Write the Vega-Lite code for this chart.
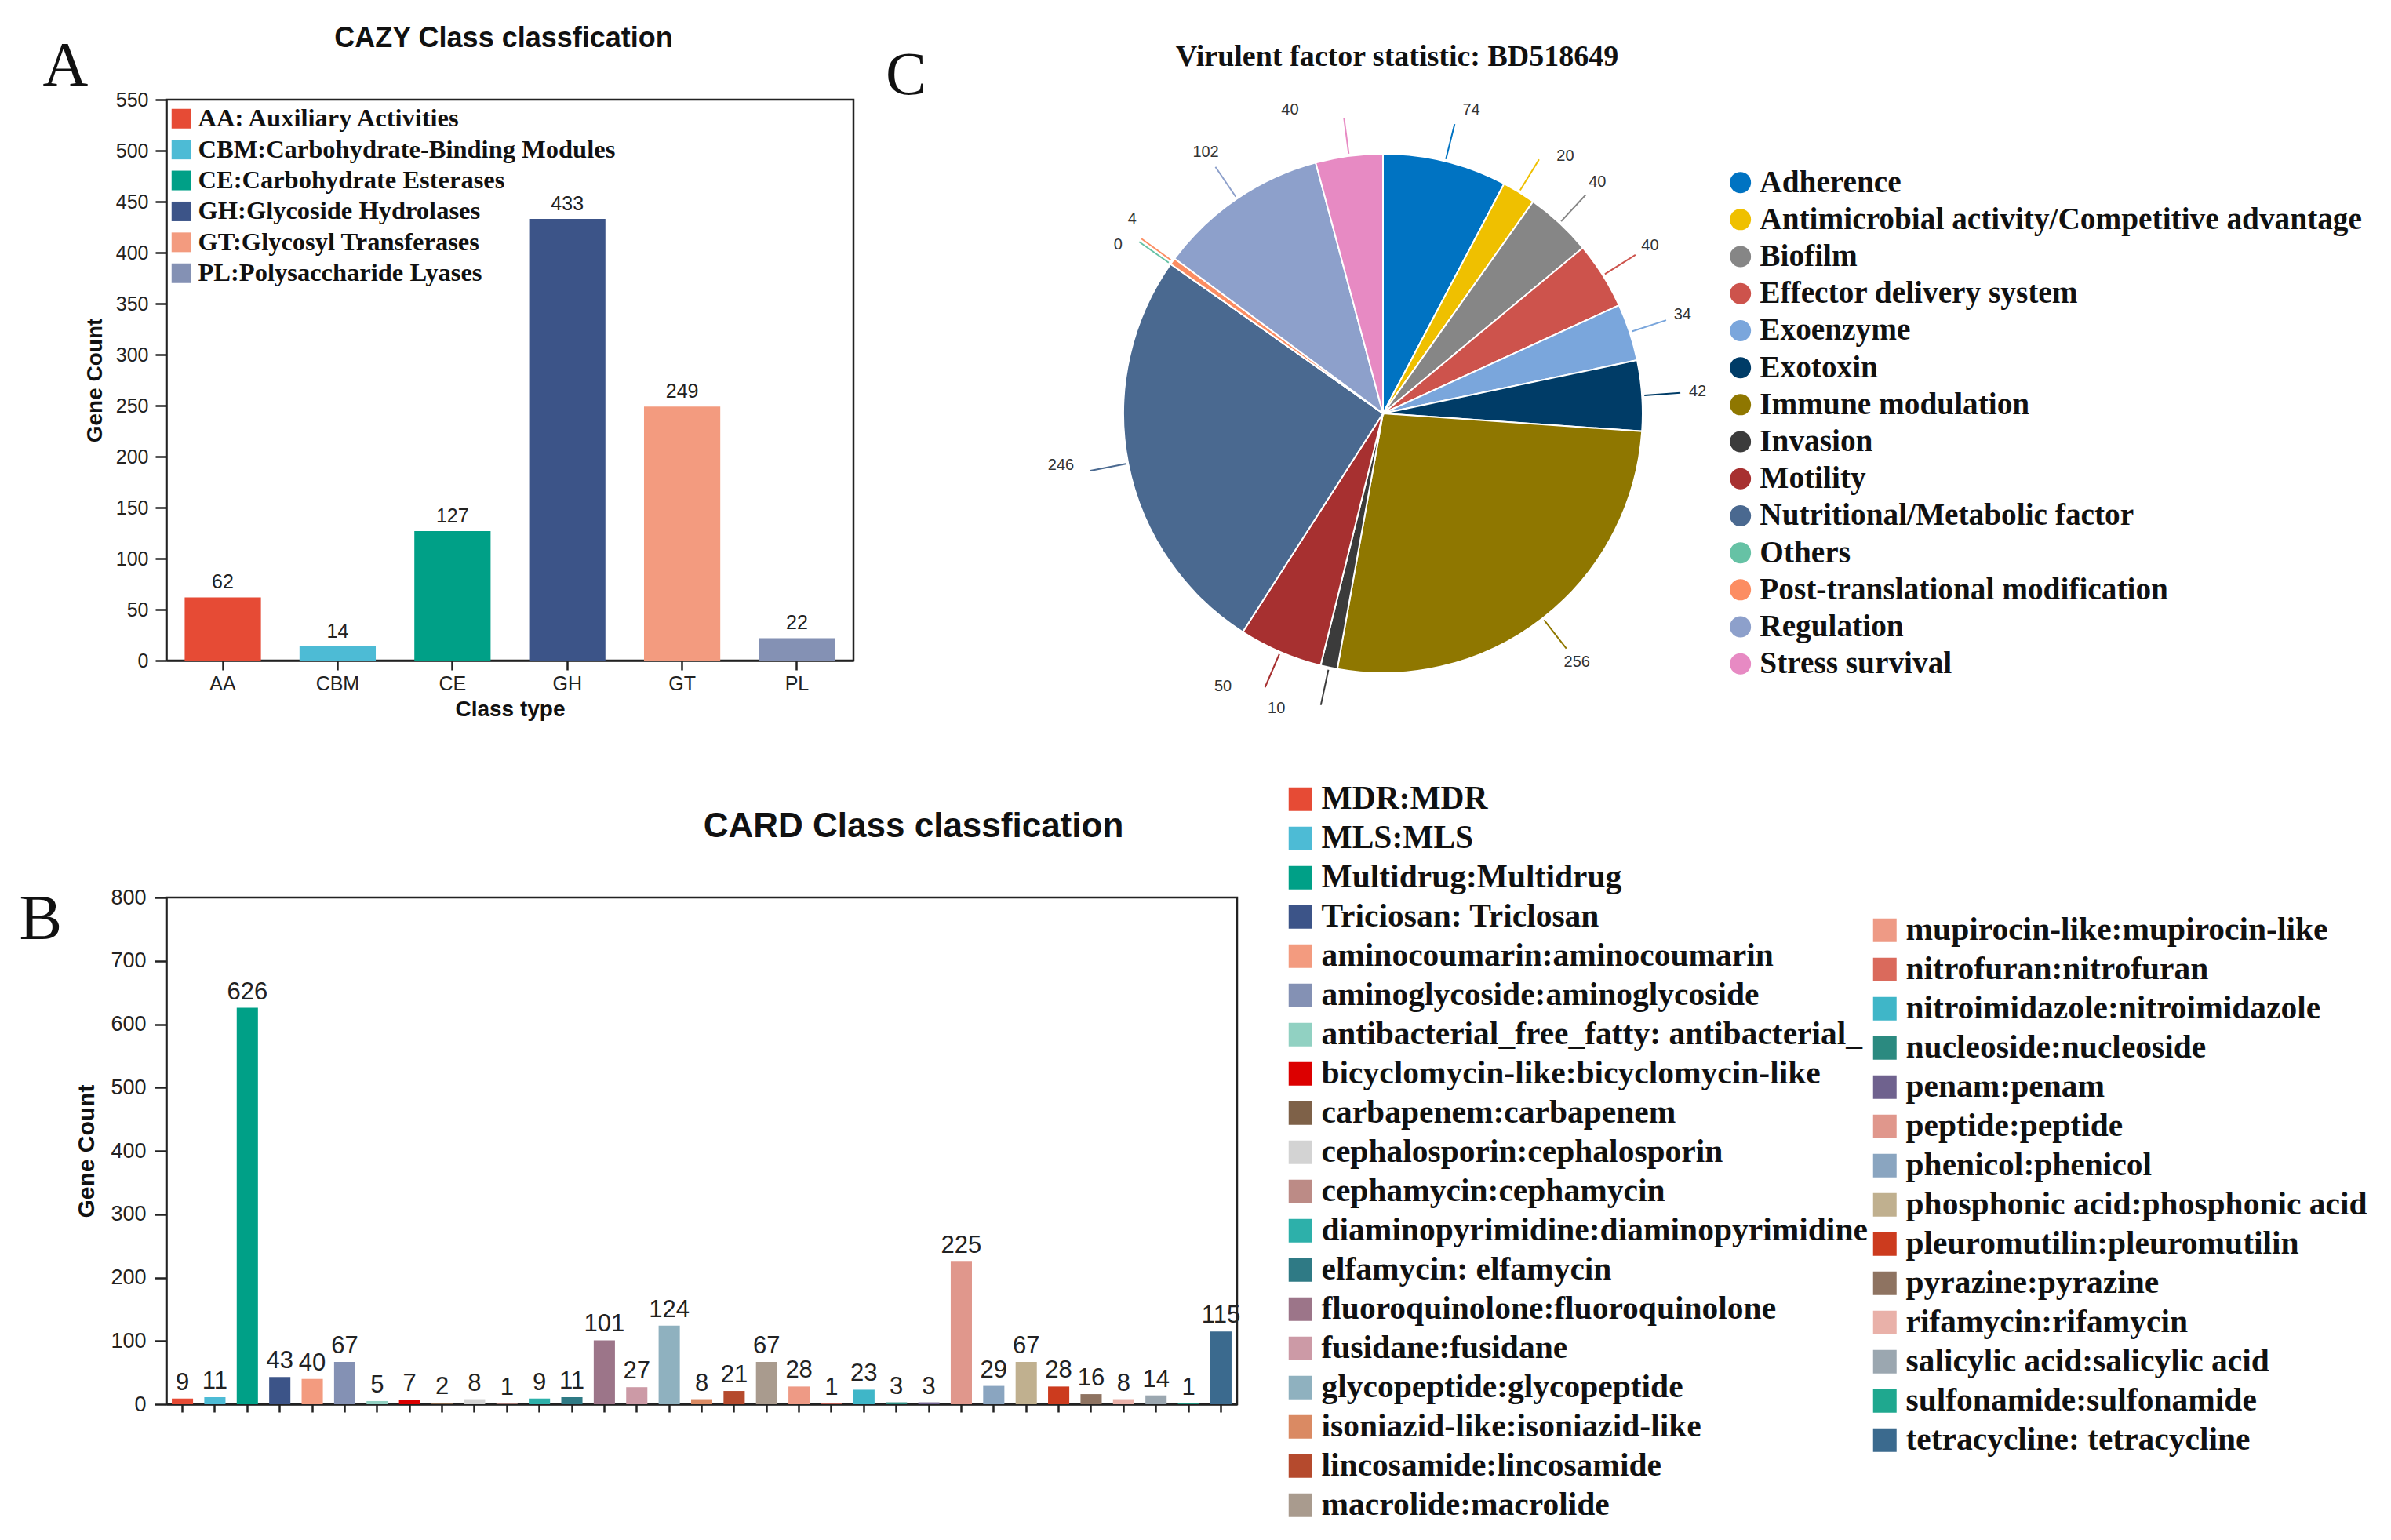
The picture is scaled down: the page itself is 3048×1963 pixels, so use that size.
{
  "$schema": "https://vega.github.io/schema/vega-lite/v6.json",
  "background": "white",
  "padding": {"left": 22, "top": 29, "right": 0, "bottom": 0},
  "config": {
    "font": "Liberation Sans",
    "view": {"stroke": "#222", "strokeWidth": 2.5},
    "axis": {"labelFont": "Liberation Sans", "labelFontSize": 25, "labelColor": "#222", "domainColor": "#222", "domainWidth": 2.5, "tickColor": "#222", "tickWidth": 2.5, "titleFont": "Liberation Sans", "titleFontWeight": "bold", "titleColor": "#111", "grid": false},
    "legend": {"labelFont": "Liberation Serif", "labelFontWeight": "bold", "labelColor": "#111", "labelLimit": 2000, "padding": 0, "symbolStrokeWidth": 0, "title": null},
    "title": {"color": "#111"}
  },
  "datasets": {
    "cazy": [
      {"type": "AA", "desc": "AA: Auxiliary Activities", "count": 62},
      {"type": "CBM", "desc": "CBM:Carbohydrate-Binding Modules", "count": 14},
      {"type": "CE", "desc": "CE:Carbohydrate Esterases", "count": 127},
      {"type": "GH", "desc": "GH:Glycoside Hydrolases", "count": 433},
      {"type": "GT", "desc": "GT:Glycosyl Transferases", "count": 249},
      {"type": "PL", "desc": "PL:Polysaccharide Lyases", "count": 22}
    ],
    "vf": [
      {"factor": "Adherence", "count": 74},
      {"factor": "Antimicrobial activity/Competitive advantage", "count": 20},
      {"factor": "Biofilm", "count": 40},
      {"factor": "Effector delivery system", "count": 40},
      {"factor": "Exoenzyme", "count": 34},
      {"factor": "Exotoxin", "count": 42},
      {"factor": "Immune modulation", "count": 256},
      {"factor": "Invasion", "count": 10},
      {"factor": "Motility", "count": 50},
      {"factor": "Nutritional/Metabolic factor", "count": 246},
      {"factor": "Others", "count": 0},
      {"factor": "Post-translational modification", "count": 4},
      {"factor": "Regulation", "count": 102},
      {"factor": "Stress survival", "count": 40}
    ],
    "card": [
      {"cls": "MDR:MDR", "count": 9},
      {"cls": "MLS:MLS", "count": 11},
      {"cls": "Multidrug:Multidrug", "count": 626},
      {"cls": "Triciosan: Triclosan", "count": 43},
      {"cls": "aminocoumarin:aminocoumarin", "count": 40},
      {"cls": "aminoglycoside:aminoglycoside", "count": 67},
      {"cls": "antibacterial_free_fatty: antibacterial_", "count": 5},
      {"cls": "bicyclomycin-like:bicyclomycin-like", "count": 7},
      {"cls": "carbapenem:carbapenem", "count": 2},
      {"cls": "cephalosporin:cephalosporin", "count": 8},
      {"cls": "cephamycin:cephamycin", "count": 1},
      {"cls": "diaminopyrimidine:diaminopyrimidine", "count": 9},
      {"cls": "elfamycin: elfamycin", "count": 11},
      {"cls": "fluoroquinolone:fluoroquinolone", "count": 101},
      {"cls": "fusidane:fusidane", "count": 27},
      {"cls": "glycopeptide:glycopeptide", "count": 124},
      {"cls": "isoniazid-like:isoniazid-like", "count": 8},
      {"cls": "lincosamide:lincosamide", "count": 21},
      {"cls": "macrolide:macrolide", "count": 67},
      {"cls": "mupirocin-like:mupirocin-like", "count": 28},
      {"cls": "nitrofuran:nitrofuran", "count": 1},
      {"cls": "nitroimidazole:nitroimidazole", "count": 23},
      {"cls": "nucleoside:nucleoside", "count": 3},
      {"cls": "penam:penam", "count": 3},
      {"cls": "peptide:peptide", "count": 225},
      {"cls": "phenicol:phenicol", "count": 29},
      {"cls": "phosphonic acid:phosphonic acid", "count": 67},
      {"cls": "pleuromutilin:pleuromutilin", "count": 28},
      {"cls": "pyrazine:pyrazine", "count": 16},
      {"cls": "rifamycin:rifamycin", "count": 8},
      {"cls": "salicylic acid:salicylic acid", "count": 14},
      {"cls": "sulfonamide:sulfonamide", "count": 1},
      {"cls": "tetracycline: tetracycline", "count": 115}
    ]
  },
  "title": {"text": "C", "font": "Liberation Serif", "fontSize": 78, "fontWeight": "normal", "anchor": "start", "frame": "group", "baseline": "alphabetic", "offset": 0, "dx": 917, "dy": 168},
  "columns": 2,
  "align": {"row": "each", "column": "none"},
  "bounds": "flush",
  "spacing": {"row": 217, "column": -145},
  "resolve": {"scale": {"color": "independent", "stroke": "independent"}},
  "concat": [
    {
      "title": {"text": "CAZY Class classfication", "font": "Liberation Sans", "fontSize": 36, "fontWeight": "bold", "anchor": "middle", "frame": "group", "baseline": "alphabetic", "offset": 0, "dx": -8, "dy": 52},
      "width": 876,
      "height": 715,
      "data": {"name": "cazy"},
      "encoding": {
        "y": {"field": "count", "type": "quantitative", "scale": {"domain": [0, 550], "nice": false},
          "axis": {"values": [0, 50, 100, 150, 200, 250, 300, 350, 400, 450, 500, 550], "title": "Gene Count", "titleFontSize": 28, "tickSize": 14, "labelPadding": 9, "titlePadding": 12}}
      },
      "layer": [
        {
          "mark": {"type": "bar"},
          "encoding": {
            "x": {"field": "type", "type": "nominal", "sort": null, "scale": {"paddingInner": 0.336, "paddingOuter": 0.16},
              "axis": {"labelAngle": 0, "title": "Class type", "titleFontSize": 28, "tickSize": 12, "labelPadding": 5, "titlePadding": 6}},
            "color": {"field": "desc", "type": "nominal", "sort": null,
              "scale": {"domain": ["AA: Auxiliary Activities", "CBM:Carbohydrate-Binding Modules", "CE:Carbohydrate Esterases", "GH:Glycoside Hydrolases", "GT:Glycosyl Transferases", "PL:Polysaccharide Lyases"],
                "range": ["#E64B35", "#4DBBD5", "#00A087", "#3C5488", "#F39B7F", "#8491B4"]},
              "legend": {"orient": "none", "legendX": 3, "legendY": 8, "symbolType": "square", "symbolSize": 625, "labelFontSize": 32.5, "rowPadding": 6.4, "labelOffset": 5}}
          }
        },
        {
          "mark": {"type": "text", "baseline": "alphabetic", "dy": -11, "fontSize": 25, "color": "#222"},
          "encoding": {
            "x": {"field": "type", "type": "nominal", "sort": null,
              "axis": {"orient": "top", "labels": false, "ticks": false, "domain": false, "title": "A", "titleFont": "Liberation Serif", "titleFontSize": 80, "titleFontWeight": "normal", "titleAngle": 0, "titleX": -158, "titleY": -19, "titleAlign": "left", "titleBaseline": "alphabetic"}},
            "text": {"field": "count", "type": "quantitative"}
          }
        }
      ],
      "resolve": {"axis": {"x": "independent"}}
    },
    {
      "title": {"text": "Virulent factor statistic: BD518649", "font": "Liberation Serif", "fontSize": 38, "fontWeight": "bold", "anchor": "middle", "frame": "group", "baseline": "alphabetic", "offset": 0, "dx": 18, "dy": 25},
      "width": 662,
      "height": 800,
      "view": {"stroke": null},
      "data": {"name": "vf"},
      "encoding": {"theta": {"field": "count", "type": "quantitative", "stack": true}},
      "layer": [
        {
          "mark": {"type": "arc", "radius": 331, "stroke": "white", "strokeWidth": 2},
          "encoding": {
            "color": {"field": "factor", "type": "nominal", "sort": null,
              "scale": {"domain": ["Adherence", "Antimicrobial activity/Competitive advantage", "Biofilm", "Effector delivery system", "Exoenzyme", "Exotoxin", "Immune modulation", "Invasion", "Motility", "Nutritional/Metabolic factor", "Others", "Post-translational modification", "Regulation", "Stress survival"],
                "range": ["#0073C2", "#EFC000", "#868686", "#CD534C", "#7AA6DC", "#003C67", "#8F7700", "#3B3B3B", "#A73030", "#4A6990", "#66C2A5", "#FC8D62", "#8DA0CB", "#E78AC3"]},
              "legend": {"orient": "none", "legendX": 767, "legendY": 86, "symbolType": "circle", "symbolSize": 729, "labelFontSize": 39.3, "rowPadding": 7.2, "labelOffset": 5}}
          }
        },
        {
          "mark": {"type": "arc", "radius": 380, "radius2": 334, "padAngle": 3, "fillOpacity": 0, "strokeWidth": 2},
          "encoding": {
            "stroke": {"field": "factor", "type": "nominal", "sort": null,
              "scale": {"domain": ["Adherence", "Antimicrobial activity/Competitive advantage", "Biofilm", "Effector delivery system", "Exoenzyme", "Exotoxin", "Immune modulation", "Invasion", "Motility", "Nutritional/Metabolic factor", "Others", "Post-translational modification", "Regulation", "Stress survival"],
                "range": ["#0073C2", "#EFC000", "#868686", "#CD534C", "#7AA6DC", "#003C67", "#8F7700", "#3B3B3B", "#A73030", "#4A6990", "#66C2A5", "#FC8D62", "#8DA0CB", "#E78AC3"]},
              "legend": null}
          }
        },
        {
          "mark": {"type": "text", "radius": 402, "fontSize": 20, "color": "#333"},
          "encoding": {
            "order": {"field": "factor", "type": "nominal", "sort": "ascending"},
            "text": {"condition": {"test": "indexof(['Others', 'Post-translational modification', 'Motility', 'Invasion', 'Stress survival', 'Antimicrobial activity/Competitive advantage', 'Adherence', 'Nutritional/Metabolic factor'], datum.factor) >= 0", "value": ""}, "field": "count", "type": "quantitative"}
          }
        },
        {
          "mark": {"type": "text", "radius": 402, "fontSize": 20, "color": "#333", "dx": 6, "dy": -12},
          "encoding": {
            "order": {"field": "factor", "type": "nominal", "sort": "ascending"},
            "text": {"condition": {"test": "datum.factor === 'Post-translational modification'", "field": "count", "type": "quantitative"}, "value": ""}
          }
        },
        {
          "mark": {"type": "text", "radius": 402, "fontSize": 20, "color": "#333", "dx": -9, "dy": 16},
          "encoding": {
            "order": {"field": "factor", "type": "nominal", "sort": "ascending"},
            "text": {"condition": {"test": "datum.factor === 'Others'", "field": "count", "type": "quantitative"}, "value": ""}
          }
        },
        {
          "mark": {"type": "text", "radius": 402, "fontSize": 20, "color": "#333", "dx": -45, "dy": -21},
          "encoding": {
            "order": {"field": "factor", "type": "nominal", "sort": "ascending"},
            "text": {"condition": {"test": "datum.factor === 'Motility'", "field": "count", "type": "quantitative"}, "value": ""}
          }
        },
        {
          "mark": {"type": "text", "radius": 402, "fontSize": 20, "color": "#333", "dx": -52, "dy": -17},
          "encoding": {
            "order": {"field": "factor", "type": "nominal", "sort": "ascending"},
            "text": {"condition": {"test": "datum.factor === 'Invasion'", "field": "count", "type": "quantitative"}, "value": ""}
          }
        },
        {
          "mark": {"type": "text", "radius": 402, "fontSize": 20, "color": "#333", "dx": -66, "dy": 12},
          "encoding": {
            "order": {"field": "factor", "type": "nominal", "sort": "ascending"},
            "text": {"condition": {"test": "datum.factor === 'Stress survival'", "field": "count", "type": "quantitative"}, "value": ""}
          }
        },
        {
          "mark": {"type": "text", "radius": 402, "fontSize": 20, "color": "#333", "dx": 22, "dy": 15},
          "encoding": {
            "order": {"field": "factor", "type": "nominal", "sort": "ascending"},
            "text": {"condition": {"test": "datum.factor === 'Antimicrobial activity/Competitive advantage'", "field": "count", "type": "quantitative"}, "value": ""}
          }
        },
        {
          "mark": {"type": "text", "radius": 402, "fontSize": 20, "color": "#333", "dx": 16, "dy": 3},
          "encoding": {
            "order": {"field": "factor", "type": "nominal", "sort": "ascending"},
            "text": {"condition": {"test": "datum.factor === 'Adherence'", "field": "count", "type": "quantitative"}, "value": ""}
          }
        },
        {
          "mark": {"type": "text", "radius": 402, "fontSize": 20, "color": "#333", "dx": -16, "dy": -11},
          "encoding": {
            "order": {"field": "factor", "type": "nominal", "sort": "ascending"},
            "text": {"condition": {"test": "datum.factor === 'Nutritional/Metabolic factor'", "field": "count", "type": "quantitative"}, "value": ""}
          }
        }
      ]
    },
    {
      "title": {"text": "CARD Class classfication", "font": "Liberation Sans", "fontSize": 44, "fontWeight": "bold", "anchor": "middle", "frame": "group", "baseline": "alphabetic", "offset": 0, "dx": 270, "dy": 113},
      "width": 1365,
      "height": 646,
      "data": {"name": "card"},
      "encoding": {
        "y": {"field": "count", "type": "quantitative", "scale": {"domain": [0, 800], "nice": false},
          "axis": {"values": [0, 100, 200, 300, 400, 500, 600, 700, 800], "title": "Gene Count", "titleFontSize": 30, "labelFontSize": 27, "tickSize": 15, "labelPadding": 11, "titlePadding": 15}}
      },
      "layer": [
        {
          "transform": [{"filter": {"field": "cls", "oneOf": ["MDR:MDR", "MLS:MLS", "Multidrug:Multidrug", "Triciosan: Triclosan", "aminocoumarin:aminocoumarin", "aminoglycoside:aminoglycoside", "antibacterial_free_fatty: antibacterial_", "bicyclomycin-like:bicyclomycin-like", "carbapenem:carbapenem", "cephalosporin:cephalosporin", "cephamycin:cephamycin", "diaminopyrimidine:diaminopyrimidine", "elfamycin: elfamycin", "fluoroquinolone:fluoroquinolone", "fusidane:fusidane", "glycopeptide:glycopeptide", "isoniazid-like:isoniazid-like", "lincosamide:lincosamide", "macrolide:macrolide"]}}],
          "mark": {"type": "bar"},
          "encoding": {
            "x": {"field": "cls", "type": "nominal", "sort": null,
              "scale": {"paddingInner": 0.346, "paddingOuter": 0.17,
                "domain": ["MDR:MDR", "MLS:MLS", "Multidrug:Multidrug", "Triciosan: Triclosan", "aminocoumarin:aminocoumarin", "aminoglycoside:aminoglycoside", "antibacterial_free_fatty: antibacterial_", "bicyclomycin-like:bicyclomycin-like", "carbapenem:carbapenem", "cephalosporin:cephalosporin", "cephamycin:cephamycin", "diaminopyrimidine:diaminopyrimidine", "elfamycin: elfamycin", "fluoroquinolone:fluoroquinolone", "fusidane:fusidane", "glycopeptide:glycopeptide", "isoniazid-like:isoniazid-like", "lincosamide:lincosamide", "macrolide:macrolide", "mupirocin-like:mupirocin-like", "nitrofuran:nitrofuran", "nitroimidazole:nitroimidazole", "nucleoside:nucleoside", "penam:penam", "peptide:peptide", "phenicol:phenicol", "phosphonic acid:phosphonic acid", "pleuromutilin:pleuromutilin", "pyrazine:pyrazine", "rifamycin:rifamycin", "salicylic acid:salicylic acid", "sulfonamide:sulfonamide", "tetracycline: tetracycline"]},
              "axis": {"labels": false, "title": null, "tickSize": 10}},
            "color": {"field": "cls", "type": "nominal", "sort": null,
              "scale": {"domain": ["MDR:MDR", "MLS:MLS", "Multidrug:Multidrug", "Triciosan: Triclosan", "aminocoumarin:aminocoumarin", "aminoglycoside:aminoglycoside", "antibacterial_free_fatty: antibacterial_", "bicyclomycin-like:bicyclomycin-like", "carbapenem:carbapenem", "cephalosporin:cephalosporin", "cephamycin:cephamycin", "diaminopyrimidine:diaminopyrimidine", "elfamycin: elfamycin", "fluoroquinolone:fluoroquinolone", "fusidane:fusidane", "glycopeptide:glycopeptide", "isoniazid-like:isoniazid-like", "lincosamide:lincosamide", "macrolide:macrolide"],
                "range": ["#E64B35", "#4DBBD5", "#00A087", "#3C5488", "#F39B7F", "#8491B4", "#91D1C2", "#DC0000", "#7E6148", "#D3D3D3", "#BC8B86", "#2DB0AA", "#2F7A85", "#9C7589", "#CC9AA6", "#8FB1BF", "#DA8A63", "#B54A2D", "#A99B8E"]},
              "legend": {"orient": "none", "legendX": 1425, "legendY": -146, "symbolType": "square", "symbolSize": 900, "labelFontSize": 41.5, "rowPadding": 7, "labelOffset": 6}}
          }
        },
        {
          "transform": [{"filter": {"field": "cls", "oneOf": ["mupirocin-like:mupirocin-like", "nitrofuran:nitrofuran", "nitroimidazole:nitroimidazole", "nucleoside:nucleoside", "penam:penam", "peptide:peptide", "phenicol:phenicol", "phosphonic acid:phosphonic acid", "pleuromutilin:pleuromutilin", "pyrazine:pyrazine", "rifamycin:rifamycin", "salicylic acid:salicylic acid", "sulfonamide:sulfonamide", "tetracycline: tetracycline"]}}],
          "mark": {"type": "bar"},
          "encoding": {
            "x": {"field": "cls", "type": "nominal", "sort": null, "axis": null},
            "color": {"field": "cls", "type": "nominal", "sort": null,
              "scale": {"domain": ["mupirocin-like:mupirocin-like", "nitrofuran:nitrofuran", "nitroimidazole:nitroimidazole", "nucleoside:nucleoside", "penam:penam", "peptide:peptide", "phenicol:phenicol", "phosphonic acid:phosphonic acid", "pleuromutilin:pleuromutilin", "pyrazine:pyrazine", "rifamycin:rifamycin", "salicylic acid:salicylic acid", "sulfonamide:sulfonamide", "tetracycline: tetracycline"],
                "range": ["#EE9A85", "#DA6A5C", "#3FB6C8", "#2B8A80", "#6F628E", "#E0978C", "#8AA5C0", "#C0B08F", "#CC3B1E", "#8E7361", "#E9B1A9", "#9BA7B0", "#1FA88F", "#3B6A8E"]},
              "legend": {"orient": "none", "legendX": 2170, "legendY": 21, "symbolType": "square", "symbolSize": 900, "labelFontSize": 41.5, "rowPadding": 7, "labelOffset": 6}}
          }
        },
        {
          "mark": {"type": "text", "baseline": "alphabetic", "dy": -11, "fontSize": 31, "color": "#222"},
          "encoding": {
            "x": {"field": "cls", "type": "nominal", "sort": null,
              "axis": {"orient": "top", "labels": false, "ticks": false, "domain": false, "title": "B", "titleFont": "Liberation Serif", "titleFontSize": 82, "titleFontWeight": "normal", "titleAngle": 0, "titleX": -188, "titleY": 52, "titleAlign": "left", "titleBaseline": "alphabetic"}},
            "text": {"field": "count", "type": "quantitative"}
          }
        }
      ],
      "resolve": {"scale": {"color": "independent"}, "axis": {"x": "independent"}}
    }
  ]
}
